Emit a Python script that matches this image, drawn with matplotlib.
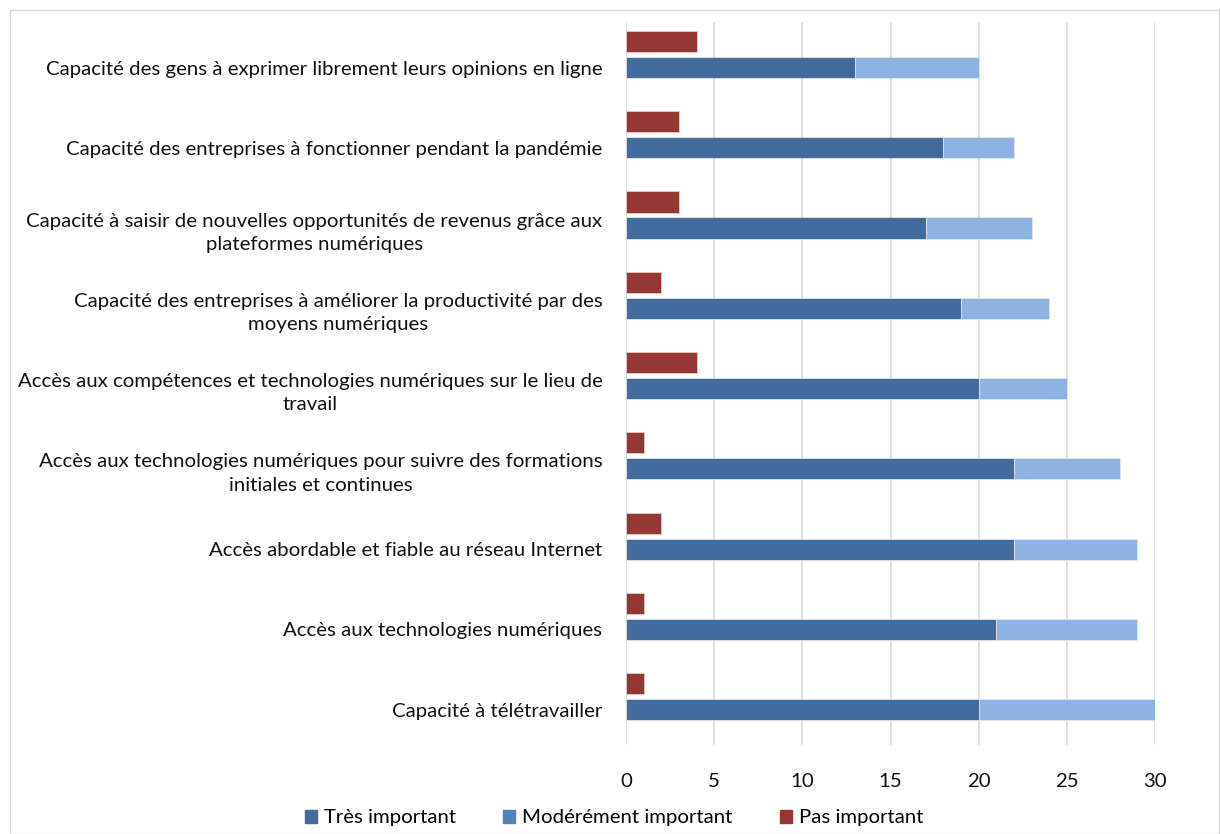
import matplotlib
matplotlib.use("Agg")
import matplotlib.pyplot as plt
from matplotlib.patches import Patch, Rectangle

categories = [
    "Capacité à télétravailler",
    "Accès aux technologies numériques",
    "Accès abordable et fiable au réseau Internet",
    "Accès aux technologies numériques pour suivre des formations\ninitiales et continues",
    "Accès aux compétences et technologies numériques sur le lieu de\ntravail",
    "Capacité des entreprises à améliorer la productivité par des\nmoyens numériques",
    "Capacité à saisir de nouvelles opportunités de revenus grâce aux\nplateformes numériques",
    "Capacité des entreprises à fonctionner pendant la pandémie",
    "Capacité des gens à exprimer librement leurs opinions en ligne",
]
tres_important = [20, 21, 22, 22, 20, 19, 17, 18, 13]
moderement_important = [10, 8, 7, 6, 5, 5, 6, 4, 7]
pas_important = [1, 1, 2, 1, 4, 2, 3, 3, 4]
x_ticks = [0, 5, 10, 15, 20, 25, 30]

series_names = ["Très important", "Modérément important", "Pas important"]
c_tres = "#416b9d"
c_mod = "#8db3e2"
c_mod_legend = "#4f81bd"
c_pas = "#953735"

plt.rcParams["font.family"] = ["Lato", "DejaVu Sans"]

fig = plt.figure(figsize=(12.21, 8.34), dpi=100)
ax = fig.add_axes([626 / 1221, 1 - 745 / 834, (1155 - 626) / 1221, (745 - 22) / 834])

y = list(range(len(categories)))
bar_h = 0.262
offset = 0.324

ax.barh(y, tres_important, height=bar_h, color=c_tres, edgecolor="#dfe6f0", linewidth=0.6, zorder=3)
ax.barh(y, moderement_important, left=tres_important, height=bar_h, color=c_mod,
        edgecolor="#dfe6f0", linewidth=0.6, zorder=3)
ax.barh([v + offset for v in y], pas_important, height=bar_h, color=c_pas,
        edgecolor="#e8c9c8", linewidth=0.6, zorder=3)

ax.set_xlim(0, 30)
ax.set_ylim(-0.442, len(categories) - 1 + 0.567)
ax.set_xticks(x_ticks)
ax.set_xticklabels([str(t) for t in x_ticks], fontsize=14.7, color="#111111")
ax.set_yticks(y)
ax.set_yticklabels(categories, fontsize=14.7, color="#111111", multialignment="center",
                   linespacing=1.45)
ax.tick_params(axis="both", length=0)
ax.tick_params(axis="x", pad=20)
ax.tick_params(axis="y", pad=17)
ax.grid(axis="x", color="#d9d9d9", linewidth=1.2, zorder=0)
for s in ax.spines.values():
    s.set_visible(False)

handles = [Patch(color=c_tres), Patch(color=c_mod_legend), Patch(color=c_pas)]
fig.legend(handles, series_names, loc="center", bbox_to_anchor=(0.503, 1 - 818 / 834),
           ncol=3, frameon=False, fontsize=14.7, handlelength=0.6, handleheight=0.6,
           handletextpad=0.35, columnspacing=2.3)

fig.patches.append(Rectangle((10 / 1221, 0), 1 - 12 / 1221, 1 - 10 / 834, transform=fig.transFigure,
                             fill=False, edgecolor="#d9d9d9", linewidth=1.0))

fig.savefig("out.png", dpi=100)
